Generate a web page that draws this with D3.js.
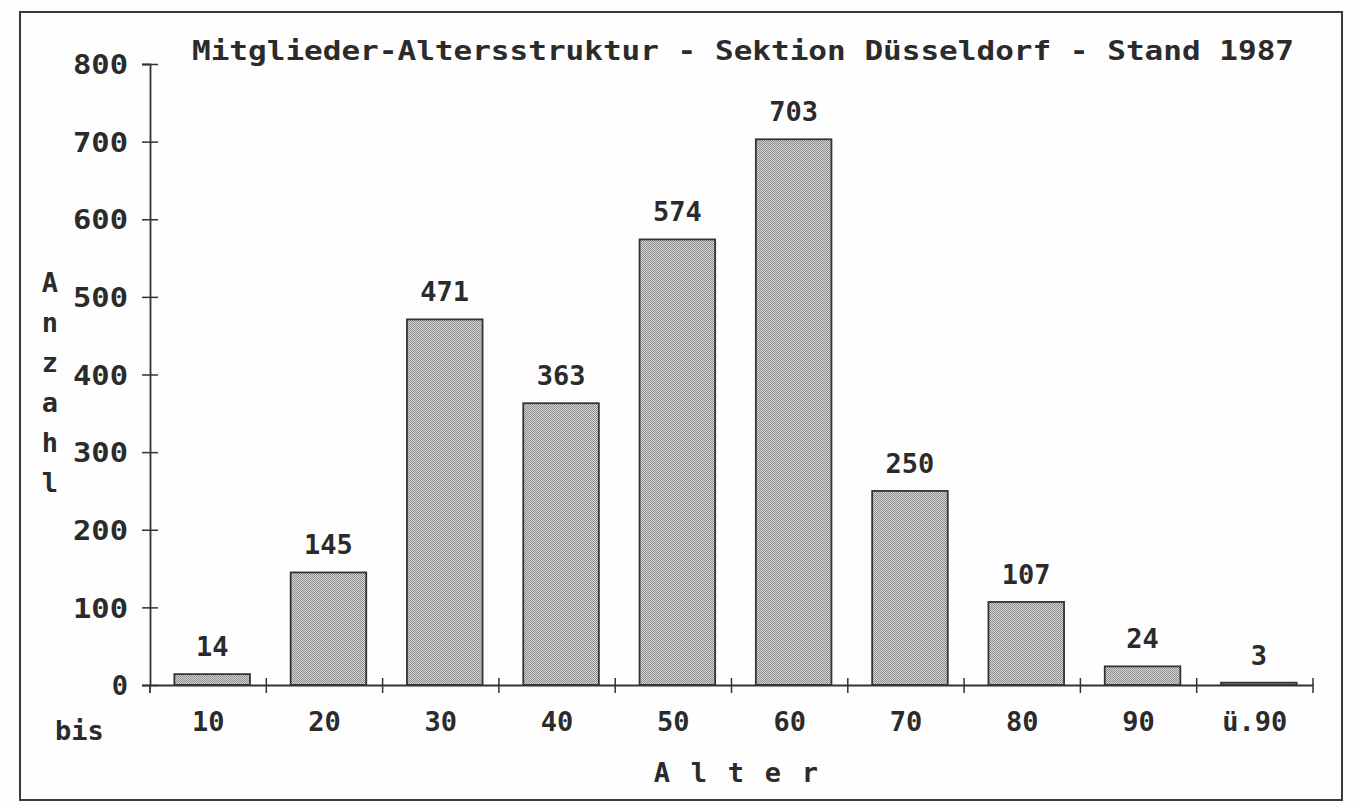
<!DOCTYPE html>
<html lang="de">
<meta charset="utf-8">
<title>Mitglieder-Altersstruktur</title>
<script src="https://d3js.org/d3.v7.min.js"></script>
<body>
<div id="chart"></div>
</body>
<style>
body { margin: 0; background: #fefefe; }
.txt {
  fill: #2b2b2b;
  font-family: "DejaVu Sans Mono", "Liberation Mono", monospace;
  font-size: 27px;
  font-weight: bold;
}
</style>
<script>
// chart data
const categories = ["10", "20", "30", "40", "50", "60", "70", "80", "90", "ü.90"];
const counts = [14, 145, 471, 363, 574, 703, 250, 107, 24, 3];
const yTicks = [0, 100, 200, 300, 400, 500, 600, 700, 800];
const title = "Mitglieder-Altersstruktur - Sektion Düsseldorf - Stand 1987";
const yLabel = "Anzahl";
const xLabel = "Alter";

const W = 1357, H = 808;
const plot = {left: 150, right: 1313, top: 64, bottom: 685};

const svg = d3.select("#chart").append("svg")
  .attr("width", W).attr("height", H);

// checker stipple like the dot-matrix printout
const pat = svg.append("defs").append("pattern")
  .attr("id", "dots").attr("width", 2).attr("height", 2)
  .attr("patternUnits", "userSpaceOnUse");
pat.append("rect").attr("width", 2).attr("height", 2).attr("fill", "#d6d6d6");
pat.append("rect").attr("width", 1).attr("height", 1).attr("fill", "#8c8c8c");
pat.append("rect").attr("x", 1).attr("y", 1).attr("width", 1).attr("height", 1).attr("fill", "#8c8c8c");

// outer frame
svg.append("rect")
  .attr("x", 20).attr("y", 12).attr("width", 1322).attr("height", 788)
  .attr("fill", "none").attr("stroke", "#3a3a3a").attr("stroke-width", 2);

// scales
let x = d3.scaleBand()
  .domain(categories)
  .range([plot.left, plot.right])
  .paddingInner(0).paddingOuter(0);

let y = d3.scaleLinear()
  .domain([0, 800])
  .range([plot.bottom, plot.top]);

// bars
const barW = x.bandwidth() * 0.65;
svg.append("g")
  .selectAll("rect")
  .data(counts)
  .enter()
  .append("rect")
    .attr("x", (d, i) => x(categories[i]) + (x.bandwidth() - barW) / 2 + 4)
    .attr("y", d => y(d))
    .attr("width", barW)
    .attr("height", d => y(0) - y(d))
    .attr("fill", "url(#dots)")
    .attr("stroke", "#333")
    .attr("stroke-width", 1.8);

// value labels
svg.append("g")
  .selectAll("text")
  .data(counts)
  .enter()
  .append("text")
    .attr("class", "txt")
    .attr("text-anchor", "middle")
    .attr("x", (d, i) => x(categories[i]) + x.bandwidth() / 2 + 4)
    .attr("y", d => y(d) - 18)
    .text(d => d);

// Y axis, ticks crossing the line
let yAxis = svg.append("g")
  .attr("transform", "translate(" + plot.left + ",0)")
  .call(d3.axisLeft(y).tickValues(yTicks).tickSize(8).tickPadding(14));
yAxis.select(".domain").attr("stroke", "#333").attr("stroke-width", 1.8);
yAxis.selectAll(".tick line").attr("x1", 8).attr("stroke", "#333").attr("stroke-width", 1.5);
yAxis.selectAll(".tick text")
  .attr("class", "txt")
  .attr("dy", "0.36em")
  .attr("textLength", 55)
  .attr("lengthAdjust", "spacingAndGlyphs");
yAxis.selectAll(".tick text").filter(d => d < 100).attr("textLength", null);
yAxis.attr("font-family", null).attr("font-size", null);

// X axis line with ticks on the band borders
let xAxis = svg.append("g")
  .attr("transform", "translate(0," + plot.bottom + ")")
  .call(d3.axisBottom(x).tickSize(0).tickPadding(36));
xAxis.select(".domain").attr("stroke", "#333").attr("stroke-width", 1.8);
xAxis.selectAll(".tick text").attr("class", "txt").attr("dy", "0.36em");
xAxis.attr("font-family", null).attr("font-size", null);

svg.append("g")
  .selectAll("line")
  .data(categories)
  .enter()
  .append("line")
    .attr("x1", d => x(d) + x.bandwidth())
    .attr("x2", d => x(d) + x.bandwidth())
    .attr("y1", plot.bottom - 7)
    .attr("y2", plot.bottom + 8)
    .attr("stroke", "#333").attr("stroke-width", 1.5);
// y axis runs a bit below the x axis
svg.append("line")
  .attr("x1", plot.left).attr("x2", plot.left)
  .attr("y1", plot.bottom).attr("y2", plot.bottom + 8)
  .attr("stroke", "#333").attr("stroke-width", 1.8);

// title
svg.append("text")
  .attr("class", "txt")
  .attr("x", 192).attr("y", 60)
  .attr("textLength", 1102)
  .attr("lengthAdjust", "spacingAndGlyphs")
  .text(title);

// "bis" in front of the category labels
svg.append("text")
  .attr("class", "txt")
  .attr("x", 55).attr("y", 740)
  .text("bis");

// vertical y label, one letter per line
svg.append("g")
  .selectAll("text")
  .data(yLabel.split(""))
  .enter()
  .append("text")
    .attr("class", "txt")
    .attr("text-anchor", "middle")
    .attr("x", 50)
    .attr("y", (d, i) => 292 + i * 40)
    .text(d => d);

// spaced-out x label
svg.append("g")
  .selectAll("text")
  .data(xLabel.split(""))
  .enter()
  .append("text")
    .attr("class", "txt")
    .attr("text-anchor", "middle")
    .attr("x", (d, i) => 662 + i * 37)
    .attr("y", 782)
    .text(d => d);
</script>
</html>
